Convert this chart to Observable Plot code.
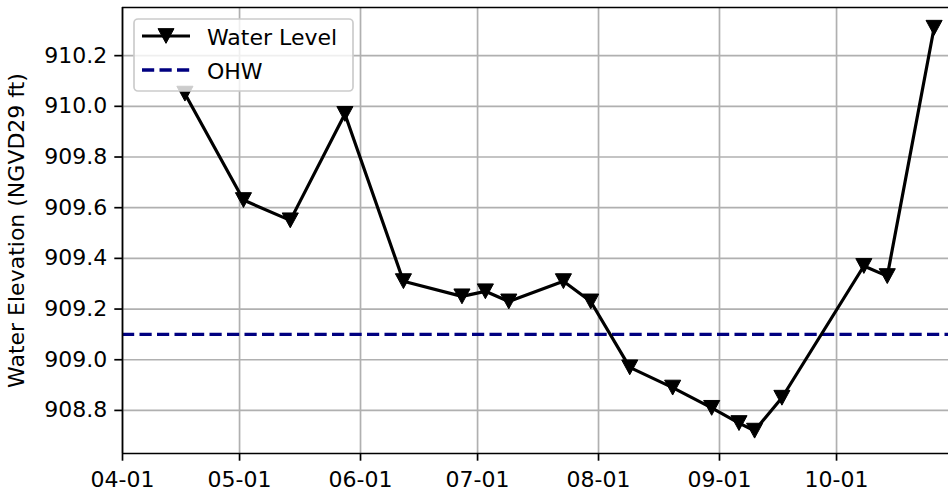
<!DOCTYPE html>
<html>
<head>
<meta charset="utf-8">
<script src="https://cdn.jsdelivr.net/npm/d3@7"></script>
<script src="https://cdn.jsdelivr.net/npm/@observablehq/plot@0.6"></script>
<style>
  html, body { margin: 0; padding: 0; background: white; }
  #wrap { position: relative; width: 948px; height: 493px; overflow: hidden; }
  #legend { position: absolute; left: 0; top: 0; }
</style>
</head>
<body>
<div id="wrap"></div>
<script>
// ---- data ----
const dates = ["2019-04-17","2019-05-02","2019-05-14","2019-05-28","2019-06-12","2019-06-27",
               "2019-07-03","2019-07-09","2019-07-23","2019-07-30","2019-08-09","2019-08-20",
               "2019-08-30","2019-09-06","2019-09-10","2019-09-17","2019-10-08","2019-10-14","2019-10-26"];
const levels = [910.05, 909.63, 909.55, 909.97, 909.31, 909.25,
                909.27, 909.23, 909.31, 909.23, 908.97, 908.89,
                908.81, 908.75, 908.72, 908.85, 909.37, 909.33, 910.31];
const ohwLevel = 909.1;
const seriesNames = ["Water Level", "OHW"];
const xTickDates = ["2019-04-01","2019-05-01","2019-06-01","2019-07-01","2019-08-01","2019-09-01","2019-10-01"];
const yTickValues = [908.8, 909.0, 909.2, 909.4, 909.6, 909.8, 910.0, 910.2];
const xLimits = ["2019-04-01", "2019-11-01"];
const yLimits = [908.63, 910.39];
const yLabel = "Water Elevation (NGVD29 ft)";

// ---- build ----
const parse = d3.utcParse("%Y-%m-%d");
const data = dates.map((d, i) => ({date: parse(d), level: levels[i]}));
const xTicks = xTickDates.map(parse);
const xDom = xLimits.map(parse);

const triDown = {
  draw(ctx, size) {
    const w = Math.sqrt(size);
    const h = w * 0.92;
    ctx.moveTo(-w / 2, -h / 2);
    ctx.lineTo(w / 2, -h / 2);
    ctx.lineTo(0, h / 2);
    ctx.closePath();
  }
};

const gridStyle = {stroke: "#b0b0b0", strokeOpacity: 1, strokeWidth: 1.7};
const frameStyle = {stroke: "black", strokeWidth: 1.7};

const chart = Plot.plot({
  width: 948,
  height: 493,
  marginLeft: 122,
  marginTop: 7,
  marginBottom: 40,
  marginRight: 0,
  style: {fontFamily: "DejaVu Sans, sans-serif", fontSize: "22px", background: "white", color: "black"},
  x: {type: "utc", domain: xDom, range: [122, 957]},
  y: {domain: yLimits},
  marks: [
    Plot.gridX(xTicks, gridStyle),
    Plot.gridY(yTickValues, gridStyle),
    Plot.ruleY([ohwLevel], {stroke: "#000080", strokeWidth: 3.3, strokeDasharray: "12.2,5.3"}),
    Plot.line(data, {x: "date", y: "level", stroke: "black", strokeWidth: 3.2}),
    Plot.dot(data, {x: "date", y: "level", symbol: triDown, r: 9.1, fill: "black", stroke: "black", strokeWidth: 1}),
    Plot.ruleX([xDom[0]], frameStyle),
    Plot.ruleY([yLimits[0]], frameStyle),
    Plot.ruleY([yLimits[1]], frameStyle),
    Plot.axisX({ticks: xTicks, tickFormat: d3.utcFormat("%m-%d"), tickSize: 7.7, tickPadding: 10.5,
                strokeWidth: 1.7, fontSize: 22, label: null}),
    Plot.axisY({ticks: yTickValues, tickFormat: d3.format(".1f"), tickSize: 7.7, tickPadding: 7.5,
                strokeWidth: 1.7, fontSize: 22, label: yLabel, labelAnchor: "center", labelOffset: 114, labelArrow: "none"})
  ]
});
document.getElementById("wrap").appendChild(chart);

// ---- legend (inside the axes, upper left) ----
const lg = d3.select("#wrap").append("svg")
  .attr("id", "legend")
  .attr("width", 948).attr("height", 493)
  .style("font-family", "DejaVu Sans, sans-serif")
  .style("font-size", "22px");
lg.append("rect")
  .attr("x", 134).attr("y", 19).attr("width", 219).attr("height", 72)
  .attr("rx", 4).attr("ry", 4)
  .attr("fill", "white").attr("fill-opacity", 0.8)
  .attr("stroke", "#cccccc").attr("stroke-width", 1.7);
const items = [
  {name: seriesNames[0], stroke: "black", width: 3.2, dash: null, marker: true, y: 36},
  {name: seriesNames[1], stroke: "#000080", width: 3.3, dash: "12.2,5.3", marker: false, y: 70}
];
items.forEach(it => {
  lg.append("line").attr("x1", 142).attr("x2", 190).attr("y1", it.y).attr("y2", it.y)
    .attr("stroke", it.stroke).attr("stroke-width", it.width)
    .attr("stroke-dasharray", it.dash);
  if (it.marker) {
    const w = 16, h = 14.7;
    lg.append("path")
      .attr("d", `M${166 - w/2},${it.y - h/2}L${166 + w/2},${it.y - h/2}L166,${it.y + h/2}Z`)
      .attr("fill", "black").attr("stroke", "black").attr("stroke-width", 1);
  }
  lg.append("text").attr("x", 207).attr("y", it.y + 8.5).attr("fill", "black").text(it.name);
});
</script>
</body>
</html>
